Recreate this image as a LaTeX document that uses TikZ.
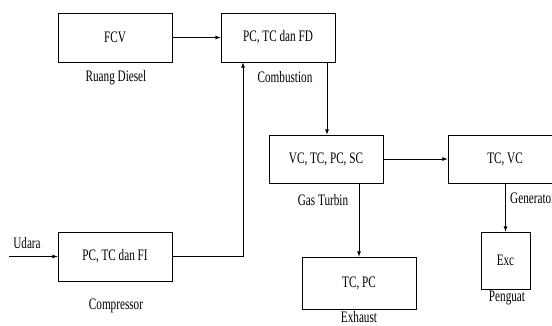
\documentclass[tikz,border=0pt]{standalone}
\usepackage{fontspec}
\setmainfont{Liberation Serif}[FakeStretch=0.7]
\usetikzlibrary{arrows}
\tikzset{
    blok/.style={draw, line width=0.8pt, minimum width=114pt, minimum height=49pt,
        inner sep=0pt, font=\fontsize{16}{18}\selectfont},
    ket/.style={font=\fontsize{16}{18}\selectfont, inner sep=0pt},
    panah/.style={-latex, line width=0.8pt}
}
\begin{document}
\begin{tikzpicture}[x=1pt, y=-1pt]
    \useasboundingbox (0, 0) rectangle (552, 325);
    \clip (0, 0) rectangle (552, 325);
    % blok-blok
    \node[blok] (fcv) at (115, 37.5) {FCV};
    \node[blok] (comb) at (278, 37.5) {PC, TC dan FD};
    \node[blok] (comp) at (115, 256.5) {PC, TC dan FI};
    \node[blok, minimum height=48pt] (turbin) at (326, 159) {VC, TC, PC, SC};
    \node[blok, minimum height=48pt] (gen) at (505, 159) {TC, VC};
    \node[blok, minimum height=52pt] (exh) at (359, 283) {TC, PC};
    \node[blok, minimum width=49pt, minimum height=57pt] (exc) at (505.5, 260.5) {Exc};
    % keterangan
    \node[ket] (lruang) at (116, 78) {Ruang Diesel};
    \node[ket] (lcomb) at (285, 77) {Combustion};
    \node[ket] (lcomp) at (116, 306) {Compressor};
    \node[ket] (lturbin) at (323, 200) {Gas Turbin};
    \node[ket, anchor=west] (lgen) at (510, 198) {Generator};
    \node[ket] (lexh) at (359, 317.5) {Exhaust};
    \node[ket] (lpeng) at (507, 298) {Penguat};
    \node[ket] (udara) at (27, 243) {Udara};
    \coordinate (masuk) at (9, 256.5);
    % panah
    \draw[panah] (masuk) -- (comp.west);
    \draw[panah] (fcv.east) -- (comb.west);
    \draw[panah] (comp.east) -| ([xshift=-35pt]comb.south);
    \draw[panah] ([xshift=49pt]comb.south) -- ([xshift=49pt]comb.south |- turbin.north);
    \draw[panah] (turbin.east) -- (gen.west);
    \draw[panah] (turbin.south -| exh.north) -- (exh.north);
    \draw[panah] (gen.south -| exc.north) -- (exc.north);
\end{tikzpicture}
\end{document}
